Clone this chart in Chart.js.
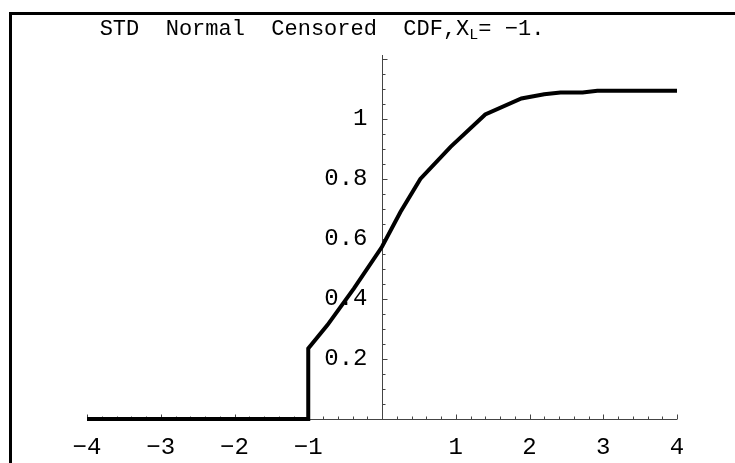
<!DOCTYPE html>
<html>
<head>
<meta charset="utf-8">
<script src="https://cdn.jsdelivr.net/npm/chart.js@4/dist/chart.umd.min.js"></script>
<style>
  html, body { margin: 0; padding: 0; background: #fff; }
  #wrap { width: 735px; height: 463px; position: relative; }
</style>
</head>
<body>
<div id="wrap"><canvas id="c" width="735" height="463"></canvas></div>
<script>
// ---- data ----
const xValues = [-4, -1, -1, -0.74, -0.38, 0, 0.25, 0.52, 0.93, 1.4, 1.89, 2.2, 2.42, 2.72, 2.92, 4];
const yValues = [0, 0, 0.235, 0.313, 0.435, 0.574, 0.69, 0.80, 0.907, 1.015, 1.068, 1.082, 1.088, 1.088, 1.094, 1.094];

const xTickValues = [-4, -3, -2, -1, 1, 2, 3, 4];
const xTickLabels = ["\u22124", "\u22123", "\u22122", "\u22121", "1", "2", "3", "4"];
const yTickValues = [0.2, 0.4, 0.6, 0.8, 1];
const yTickLabels = ["0.2", "0.4", "0.6", "0.8", "1"];

const titleMain = "STD  Normal  Censored  CDF,X";
const titleSub = "L";
const titleEnd = "= \u22121.";

const X_MIN = -4, X_MAX = 4, Y_MIN = 0, Y_MAX = 1.213;

const points = xValues.map((x, i) => ({ x: x, y: yValues[i] }));

const FONT = '"Liberation Mono", "DejaVu Sans Mono", monospace';

const decor = {
  id: 'decor',
  beforeDraw(chart) {
    const ctx = chart.ctx;
    ctx.save();
    ctx.fillStyle = '#fff';
    ctx.fillRect(0, 0, chart.width, chart.height);
    // frame
    ctx.strokeStyle = '#000';
    ctx.lineWidth = 3;
    ctx.beginPath();
    ctx.moveTo(10.5, 463);
    ctx.lineTo(10.5, 13.5);
    ctx.lineTo(735, 13.5);
    ctx.stroke();

    const xs = chart.scales.x, ys = chart.scales.y;
    const x0 = Math.round(xs.getPixelForValue(0)) + 0.5;
    const yb = Math.round(ys.getPixelForValue(0)) + 0.5;
    const xl = xs.getPixelForValue(X_MIN), xr = xs.getPixelForValue(X_MAX);
    const yt = ys.getPixelForValue(Y_MAX);
    ctx.strokeStyle = '#444';
    ctx.lineWidth = 1;
    ctx.beginPath();
    ctx.moveTo(xl, yb); ctx.lineTo(xr, yb);
    ctx.moveTo(x0, yb); ctx.lineTo(x0, yt);
    // x ticks (upward)
    for (let k = -20; k <= 20; k++) {
      const v = k * 0.2;
      if (Math.abs(v) < 1e-9) continue;
      const px = Math.round(xs.getPixelForValue(v)) + 0.5;
      const len = (k % 5 === 0) ? 5 : 3;
      ctx.moveTo(px, yb); ctx.lineTo(px, yb - len);
    }
    // y ticks (to the right)
    for (let k = 1; k * 0.05 <= Y_MAX + 1e-9; k++) {
      const v = k * 0.05;
      const py = Math.round(ys.getPixelForValue(v)) + 0.5;
      const len = (k % 4 === 0) ? 5 : 3;
      ctx.moveTo(x0, py); ctx.lineTo(x0 + len, py);
    }
    ctx.stroke();

    // tick labels
    ctx.fillStyle = '#000';
    ctx.font = '24px ' + FONT;
    ctx.textAlign = 'center';
    ctx.textBaseline = 'middle';
    xTickValues.forEach((v, i) => {
      ctx.fillText(xTickLabels[i], xs.getPixelForValue(v), 448);
    });
    ctx.textAlign = 'right';
    yTickValues.forEach((v, i) => {
      ctx.fillText(yTickLabels[i], x0 - 15, ys.getPixelForValue(v));
    });

    // title with subscript
    ctx.textAlign = 'left';
    ctx.textBaseline = 'alphabetic';
    ctx.font = '22px ' + FONT;
    const wMain = ctx.measureText(titleMain).width;
    ctx.font = '15px ' + FONT;
    const wSub = ctx.measureText(titleSub).width;
    ctx.font = '22px ' + FONT;
    const wEnd = ctx.measureText(titleEnd).width;
    const total = wMain + wSub + wEnd;
    let tx = 322 - total / 2;
    const base = 35;
    ctx.fillText(titleMain, tx, base);
    tx += wMain;
    ctx.font = '15px ' + FONT;
    ctx.fillText(titleSub, tx, base + 4);
    tx += wSub;
    ctx.font = '22px ' + FONT;
    ctx.fillText(titleEnd, tx, base);
    ctx.restore();
  }
};

new Chart(document.getElementById('c'), {
  type: 'scatter',
  data: {
    datasets: [{
      data: points,
      showLine: true,
      borderColor: '#000',
      borderWidth: 4,
      pointRadius: 0,
      fill: false,
      tension: 0,
      clip: false,
      borderJoinStyle: 'miter'
    }]
  },
  options: {
    responsive: false,
    animation: false,
    devicePixelRatio: 1,
    layout: { padding: { left: 87, right: 58, top: 55, bottom: 44 } },
    plugins: { legend: { display: false }, tooltip: { enabled: false }, title: { display: false } },
    scales: {
      x: { type: 'linear', min: X_MIN, max: X_MAX, display: false },
      y: { type: 'linear', min: Y_MIN, max: Y_MAX, display: false }
    }
  },
  plugins: [decor]
});
</script>
</body>
</html>
